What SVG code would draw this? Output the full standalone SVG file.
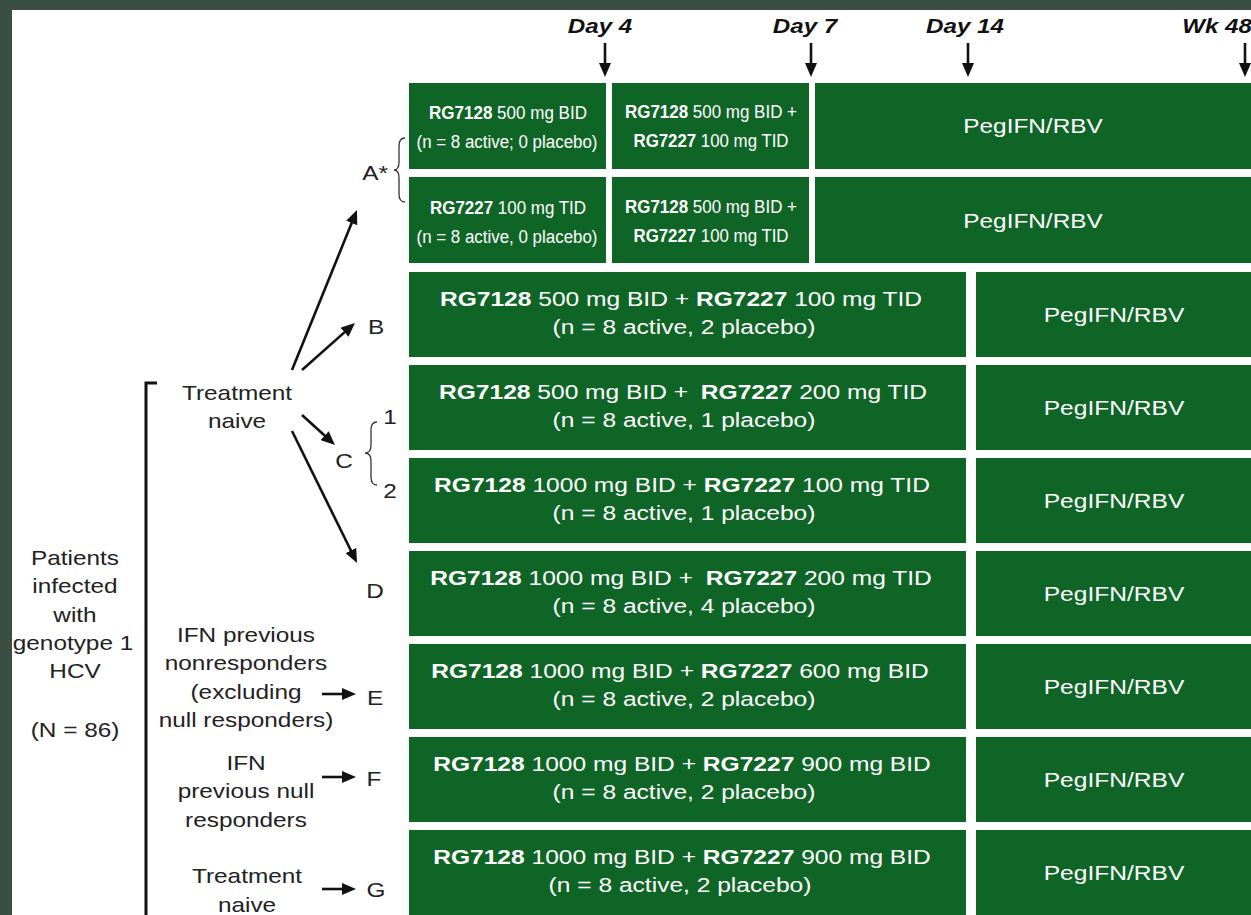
<svg xmlns="http://www.w3.org/2000/svg" width="1251" height="915" viewBox="0 0 1251 915">
<style>
.bg{fill:#3a4e45}
.box{fill:#0f6526}
.t{font-family:"Liberation Sans",Arial,sans-serif;font-size:21px;fill:#222;text-anchor:middle}
.w{fill:#fff}
.b{font-weight:bold}
.day{font-family:"Liberation Sans",Arial,sans-serif;font-size:21px;font-weight:bold;font-style:italic;fill:#111;text-anchor:middle}
.n{font-family:"Liberation Sans",Arial,sans-serif;font-size:18px;fill:#fff;text-anchor:middle}
.arr{stroke:#111;stroke-width:2.6;fill:none;marker-end:url(#ah)}
.brace{stroke:#333;stroke-width:1.3;fill:none}
.brk{stroke:#111;stroke-width:3;fill:none}
</style>
<defs>
<marker id="ah" markerUnits="userSpaceOnUse" markerWidth="14" markerHeight="12" refX="4" refY="6" orient="auto">
<path d="M0,0 L14,6 L0,12 Z" fill="#111"/>
</marker>
</defs>
<rect width="1251" height="915" class="bg"/>
<rect x="12" y="10" width="1239" height="905" fill="#fff"/>

<g id="timeline">
<text class="day" transform="translate(600,33) scale(1.15,1)">Day 4</text>
<text class="day" transform="translate(805,33) scale(1.15,1)">Day 7</text>
<text class="day" transform="translate(965,33) scale(1.15,1)">Day 14</text>
<text class="day" transform="translate(1217,33) scale(1.15,1)">Wk 48</text>
</g>

<g id="row-A1">
<rect class="box" x="409" y="83" width="197" height="86"/>
<rect class="box" x="612" y="83" width="197" height="86"/>
<rect class="box" x="815" y="83" width="436" height="86"/>
<text class="n" x="508" y="119" textLength="158" lengthAdjust="spacingAndGlyphs"><tspan class="b">RG7128</tspan> 500 mg BID</text>
<text class="n" x="507" y="148" textLength="181" lengthAdjust="spacingAndGlyphs">(n = 8 active; 0 placebo)</text>
<text class="n" x="711" y="118" textLength="172" lengthAdjust="spacingAndGlyphs"><tspan class="b">RG7128</tspan> 500 mg BID +</text>
<text class="n" x="711" y="147" textLength="155" lengthAdjust="spacingAndGlyphs"><tspan class="b">RG7227</tspan> 100 mg TID</text>
<text class="t w" transform="translate(1033,133) scale(1.16,1)">PegIFN/RBV</text>
</g>

<g id="row-A2">
<rect class="box" x="409" y="177" width="197" height="86"/>
<rect class="box" x="612" y="177" width="197" height="86"/>
<rect class="box" x="815" y="177" width="436" height="86"/>
<text class="n" x="508" y="214" textLength="156" lengthAdjust="spacingAndGlyphs"><tspan class="b">RG7227</tspan> 100 mg TID</text>
<text class="n" x="507" y="243" textLength="181" lengthAdjust="spacingAndGlyphs">(n = 8 active, 0 placebo)</text>
<text class="n" x="711" y="213" textLength="172" lengthAdjust="spacingAndGlyphs"><tspan class="b">RG7128</tspan> 500 mg BID +</text>
<text class="n" x="711" y="242" textLength="155" lengthAdjust="spacingAndGlyphs"><tspan class="b">RG7227</tspan> 100 mg TID</text>
<text class="t w" transform="translate(1033,228) scale(1.16,1)">PegIFN/RBV</text>
</g>

<g id="row-B">
<rect class="box" x="409" y="272" width="557" height="85"/>
<rect class="box" x="976" y="272" width="275" height="85"/>
<text class="t w" transform="translate(681,306) scale(1.17,1)"><tspan class="b">RG7128</tspan> 500 mg BID + <tspan class="b">RG7227</tspan> 100 mg TID</text>
<text class="t w" transform="translate(684,334) scale(1.17,1)">(n = 8 active, 2 placebo)</text>
<text class="t w" transform="translate(1114,322) scale(1.17,1)">PegIFN/RBV</text>
</g>

<g id="row-C1">
<rect class="box" x="409" y="365" width="557" height="85"/>
<rect class="box" x="976" y="365" width="275" height="85"/>
<text class="t w" transform="translate(683,399) scale(1.17,1)"><tspan class="b">RG7128</tspan> 500 mg BID + <tspan class="b" dx="5">RG7227</tspan> 200 mg TID</text>
<text class="t w" transform="translate(684,427) scale(1.17,1)">(n = 8 active, 1 placebo)</text>
<text class="t w" transform="translate(1114,415) scale(1.17,1)">PegIFN/RBV</text>
</g>

<g id="row-C2">
<rect class="box" x="409" y="458" width="557" height="85"/>
<rect class="box" x="976" y="458" width="275" height="85"/>
<text class="t w" transform="translate(682,492) scale(1.17,1)"><tspan class="b">RG7128</tspan> 1000 mg BID + <tspan class="b">RG7227</tspan> 100 mg TID</text>
<text class="t w" transform="translate(684,520) scale(1.17,1)">(n = 8 active, 1 placebo)</text>
<text class="t w" transform="translate(1114,508) scale(1.17,1)">PegIFN/RBV</text>
</g>

<g id="row-D">
<rect class="box" x="409" y="551" width="557" height="85"/>
<rect class="box" x="976" y="551" width="275" height="85"/>
<text class="t w" transform="translate(681,585) scale(1.17,1)"><tspan class="b">RG7128</tspan> 1000 mg BID + <tspan class="b" dx="5">RG7227</tspan> 200 mg TID</text>
<text class="t w" transform="translate(684,613) scale(1.17,1)">(n = 8 active, 4 placebo)</text>
<text class="t w" transform="translate(1114,601) scale(1.17,1)">PegIFN/RBV</text>
</g>

<g id="row-E">
<rect class="box" x="409" y="644" width="557" height="85"/>
<rect class="box" x="976" y="644" width="275" height="85"/>
<text class="t w" transform="translate(680,678) scale(1.17,1)"><tspan class="b">RG7128</tspan> 1000 mg BID + <tspan class="b">RG7227</tspan> 600 mg BID</text>
<text class="t w" transform="translate(684,706) scale(1.17,1)">(n = 8 active, 2 placebo)</text>
<text class="t w" transform="translate(1114,694) scale(1.17,1)">PegIFN/RBV</text>
</g>

<g id="row-F">
<rect class="box" x="409" y="737" width="557" height="85"/>
<rect class="box" x="976" y="737" width="275" height="85"/>
<text class="t w" transform="translate(682,771) scale(1.17,1)"><tspan class="b">RG7128</tspan> 1000 mg BID + <tspan class="b">RG7227</tspan> 900 mg BID</text>
<text class="t w" transform="translate(684,799) scale(1.17,1)">(n = 8 active, 2 placebo)</text>
<text class="t w" transform="translate(1114,787) scale(1.17,1)">PegIFN/RBV</text>
</g>

<g id="row-G">
<rect class="box" x="409" y="830" width="557" height="85"/>
<rect class="box" x="976" y="830" width="275" height="85"/>
<text class="t w" transform="translate(682,864) scale(1.17,1)"><tspan class="b">RG7128</tspan> 1000 mg BID + <tspan class="b">RG7227</tspan> 900 mg BID</text>
<text class="t w" transform="translate(680,892) scale(1.17,1)">(n = 8 active, 2 placebo)</text>
<text class="t w" transform="translate(1114,880) scale(1.17,1)">PegIFN/RBV</text>
</g>

<g id="population">
<path class="brk" d="M157,383 L146,383 L146,915"/>
<text class="t" transform="translate(75,565) scale(1.16,1)">Patients</text>
<text class="t" transform="translate(75,593) scale(1.16,1)">infected</text>
<text class="t" transform="translate(75,622) scale(1.16,1)">with</text>
<text class="t" transform="translate(73,650) scale(1.16,1)">genotype 1</text>
<text class="t" transform="translate(75,678) scale(1.16,1)">HCV</text>
<text class="t" transform="translate(75,737) scale(1.16,1)">(N = 86)</text>
</g>

<g id="group-naive-1">
<text class="t" transform="translate(237,400) scale(1.16,1)">Treatment</text>
<text class="t" transform="translate(237,428) scale(1.16,1)">naive</text>
</g>

<g id="group-nonresponders">
<text class="t" transform="translate(246,642) scale(1.16,1)">IFN previous</text>
<text class="t" transform="translate(246,670) scale(1.16,1)">nonresponders</text>
<text class="t" transform="translate(246,699) scale(1.16,1)">(excluding</text>
<text class="t" transform="translate(246,727) scale(1.16,1)">null responders)</text>
</g>

<g id="group-null">
<text class="t" transform="translate(246,770) scale(1.16,1)">IFN</text>
<text class="t" transform="translate(246,798) scale(1.16,1)">previous null</text>
<text class="t" transform="translate(246,827) scale(1.16,1)">responders</text>
</g>

<g id="group-naive-2">
<text class="t" transform="translate(247,883) scale(1.16,1)">Treatment</text>
<text class="t" transform="translate(247,912) scale(1.16,1)">naive</text>
</g>

<g id="arm-labels">
<text class="t" transform="translate(375,180) scale(1.16,1)">A*</text>
<path class="brace" d="M405,138 Q399,138 399,146 L399,162 Q399,170 394,170 Q399,170 399,178 L399,194 Q399,202 405,202"/>
<text class="t" transform="translate(376,334) scale(1.16,1)">B</text>
<text class="t" transform="translate(344,468) scale(1.16,1)">C</text>
<path class="brace" d="M377,422 Q371,422 371,430 L371,445 Q371,453 365,453 Q371,453 371,461 L371,477 Q371,485 377,485"/>
<text class="t" transform="translate(390,424) scale(1.16,1)">1</text>
<text class="t" transform="translate(390,498) scale(1.16,1)">2</text>
<text class="t" transform="translate(375,598) scale(1.16,1)">D</text>
<text class="t" transform="translate(375,705) scale(1.16,1)">E</text>
<text class="t" transform="translate(374,786) scale(1.16,1)">F</text>
<text class="t" transform="translate(376,897) scale(1.16,1)">G</text>
</g>

<g id="connectors">
<line class="arr" x1="605" y1="43" x2="605" y2="67"/>
<line class="arr" x1="811" y1="43" x2="811" y2="67"/>
<line class="arr" x1="968" y1="43" x2="968" y2="67"/>
<line class="arr" x1="1245" y1="43" x2="1245" y2="67"/>
<line class="arr" x1="292" y1="370" x2="353.2" y2="219.3"/>
<line class="arr" x1="302" y1="370" x2="347.5" y2="329.6"/>
<line class="arr" x1="302" y1="415" x2="327.6" y2="438.3"/>
<line class="arr" x1="292" y1="431" x2="352.6" y2="554"/>
<line class="arr" x1="322" y1="694" x2="346" y2="694"/>
<line class="arr" x1="322" y1="777" x2="346" y2="777"/>
<line class="arr" x1="322" y1="889" x2="346" y2="889"/>
</g>
</svg>
